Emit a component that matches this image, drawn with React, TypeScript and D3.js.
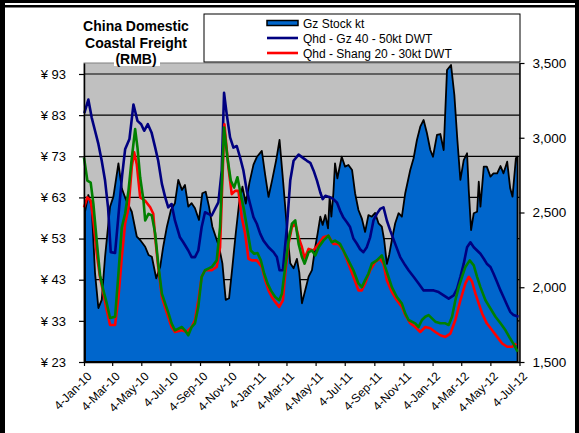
import React, { useRef, useEffect } from 'react'
import * as d3 from 'd3'

// weekly series, first column = weeks after 4-Jan-10
const gzStock: [number, number][] = [
  [0.3, 2505], [1.3, 2617], [2.3, 2539], [3.3, 2095], [4.3, 1861], [5.3, 1915], [6.3, 2204], [7.8, 2539],
  [8.8, 2606], [10.3, 2829], [11.3, 2662], [12.3, 2600], [13.3, 2550], [14.3, 2505], [15.8, 2338], [16.8, 2316],
  [18.3, 2271], [19.3, 2216], [20.3, 2204], [21.6, 2060], [22.8, 2138], [23.7, 2271], [24.8, 2405], [26, 2517],
  [27.2, 2562], [28.2, 2718], [29.3, 2651], [30.2, 2684], [31.2, 2539], [32.2, 2562], [33.2, 2528], [34.4, 2450],
  [35.4, 2629], [36.4, 2639], [37.4, 2539], [38.4, 2405], [39.4, 2338], [40.4, 2271], [41.4, 2160], [42.4, 1915],
  [43.4, 1926], [44.4, 2138], [45.4, 2361], [46.4, 2562], [47.4, 2673], [48.4, 2560], [49.5, 2700], [50.7, 2820],
  [51.7, 2871], [53.2, 2912], [54.2, 2751], [55.2, 2604], [56.3, 2718], [57.5, 2851], [58.5, 2985], [59.6, 2700],
  [60.7, 2400], [61.7, 2160], [62.7, 2127], [63.7, 2190], [64.4, 2100], [65.2, 1893], [66.2, 1982], [67.2, 2071],
  [68.2, 2115], [69.2, 2271], [69.9, 2361], [70.7, 2472], [71.4, 2417], [72.2, 2483], [73, 2394], [73.5, 2606],
  [74, 2472], [74.6, 2629], [75.1, 2829], [75.8, 2729], [77.1, 2873], [78.1, 2807], [79.1, 2818], [80.2, 2784],
  [81.1, 2629], [82.1, 2517], [83.1, 2461], [84.1, 2370], [85.1, 2483], [86.1, 2472], [87.1, 2497], [88.1, 2428],
  [89.1, 2405], [89.8, 2316], [90.6, 2156], [91.3, 2216], [92.1, 2316], [93.1, 2428], [94.1, 2495], [95.1, 2472],
  [96.1, 2629], [97.6, 2784], [98.6, 2863], [99.6, 2985], [100.6, 3074], [101.6, 3119], [102.6, 3030], [103.6, 2918],
  [104.4, 2873], [105.6, 3019], [106.6, 3025], [107.6, 2918], [108.6, 3453], [109.8, 3487], [110.8, 3286], [111.7, 2985],
  [112.6, 2718], [113.6, 2851], [114.6, 2896], [115.1, 2651], [115.8, 2383], [116.6, 2495], [117.6, 2505], [118.1, 2706],
  [118.6, 2539], [119.6, 2807], [120.5, 2807], [121.6, 2740], [122.5, 2762], [123.6, 2762], [124.6, 2811], [125.5, 2762],
  [126.6, 2840], [127.5, 2662], [128.2, 2606], [129.2, 2863], [129.7, 2873],
]

const qhdGz: [number, number][] = [
  [0.1, 83.5], [1.3, 86.8], [2.3, 82.4], [3.3, 79.2], [4.3, 76.0], [5.3, 71.9], [6.3, 67.1], [7.2, 60.5],
  [8.0, 49.7], [9.3, 49.5], [10.3, 58.6], [11.4, 68.3], [12.3, 74.7], [13.6, 77.2], [14.8, 85.6], [16.0, 81.6],
  [17.1, 80.8], [18.0, 79.2], [19.1, 80.8], [20.2, 78.8], [21.3, 75.1], [22.2, 71.9], [23.3, 66.3], [24.3, 63.0],
  [25.2, 60.6], [26.2, 61.4], [27.2, 57.4], [28.7, 53.3], [29.7, 52.1], [31.2, 50.1], [32.2, 48.5], [33.2, 48.5],
  [34.2, 50.1], [35.2, 55.8], [36.2, 59.4], [37.2, 59.0], [38.2, 58.6], [39.2, 60.2], [40.2, 61.8], [41.2, 69.5],
  [41.9, 88.4], [42.7, 83.2], [43.7, 77.6], [44.7, 75.1], [45.7, 75.5], [46.7, 72.7], [47.7, 69.5], [48.7, 64.6],
  [49.7, 61.4], [50.7, 58.2], [51.7, 56.6], [52.7, 54.2], [53.7, 52.5], [55.2, 50.9], [56.7, 49.7], [57.7, 48.5],
  [58.5, 45.3], [59.5, 45.3], [60.7, 55.8], [61.7, 67.1], [62.7, 71.9], [64.2, 73.4], [65.7, 72.5], [66.7, 71.9],
  [67.7, 71.4], [68.7, 69.5], [69.7, 67.1], [70.7, 64.2], [71.4, 62.6], [72.2, 63.4], [73.7, 63.0], [74.6, 62.6],
  [75.7, 61.7], [76.6, 59.8], [77.6, 58.1], [78.7, 56.9], [79.6, 55.8], [80.6, 53.0], [81.6, 51.8], [82.6, 50.4],
  [83.6, 49.7], [84.6, 50.9], [85.6, 53.3], [86.6, 57.4], [87.6, 59.0], [88.6, 60.2], [89.6, 60.6], [90.6, 57.4],
  [91.6, 55.0], [93.1, 51.7], [94.6, 48.5], [96.1, 46.5], [97.1, 45.3], [98.6, 43.7], [100.1, 42.1], [101.6, 40.4],
  [103.1, 40.4], [104.6, 40.4], [106.1, 40.0], [107.6, 39.2], [109.1, 38.4], [110.6, 39.2], [111.6, 40.8], [112.6, 43.7],
  [113.6, 46.9], [114.6, 50.9], [115.6, 52.1], [116.6, 50.9], [117.6, 50.1], [118.6, 49.3], [119.6, 48.1], [120.5, 46.9],
  [121.6, 46.1], [122.5, 44.5], [123.6, 42.4], [124.6, 40.4], [125.5, 38.8], [126.6, 36.8], [127.5, 35.2], [128.5, 34.4],
  [130, 34.0],
]

const qhdShang: [number, number][] = [
  [0, 60.6], [1, 63.0], [2, 62.2], [2.8, 57.4], [3.8, 49.4], [4.8, 43.6], [5.8, 39.7], [6.8, 35.6],
  [7.8, 32.0], [9.3, 32.0], [10.3, 38.7], [11.3, 48.4], [12.3, 56.7], [13.3, 60.3], [14.3, 70.5], [15, 74.0],
  [15.8, 71.0], [16.8, 63.0], [18.3, 62.2], [19.8, 60.6], [20.7, 59.1], [21.3, 53.3], [22.2, 46.1], [23.3, 38.8],
  [24.8, 34.9], [26.2, 31.5], [27.2, 30.3], [29.3, 30.7], [30.7, 30.3], [32.2, 31.5], [33.2, 33.2], [34.2, 38.0],
  [35.2, 43.7], [36.2, 45.3], [38.2, 45.3], [39.7, 46.1], [40.7, 50.9], [42, 80.8], [43.2, 70.3], [44.2, 63.8],
  [45.2, 64.6], [46.2, 64.6], [47.2, 58.2], [48.2, 54.2], [49.2, 48.1], [50.2, 47.7], [51.7, 47.7], [53.2, 46.1],
  [54.2, 42.9], [55.2, 40.4], [56.2, 38.8], [57.2, 37.6], [58.4, 36.4], [59.5, 38.0], [60.2, 44.5], [61.2, 51.8],
  [62.2, 55.8], [63.2, 56.6], [64.2, 53.3], [65.2, 50.9], [66, 48.2], [67.2, 50.5], [68.6, 50.1], [70.2, 51.7],
  [71.6, 53.3], [73.1, 53.7], [74.6, 51.7], [76.1, 51.7], [77.6, 50.1], [79.1, 46.9], [80.6, 43.7], [82.1, 40.4],
  [83.1, 40.4], [84.1, 42.1], [85.6, 45.3], [87.1, 47.3], [88.6, 48.1], [89.6, 46.9], [90.6, 42.9], [92.1, 40.0],
  [93.6, 38.0], [95.1, 36.4], [96.1, 34.4], [97.6, 32.4], [99.1, 31.5], [100.6, 30.3], [102.1, 31.5], [103.6, 31.2],
  [105.1, 30.3], [106.6, 29.5], [108.1, 29.1], [109.6, 29.9], [111.1, 33.2], [112.6, 38.0], [114.1, 42.1], [115.1, 43.7],
  [116.1, 42.5], [117.1, 39.6], [118.1, 37.2], [119.1, 34.8], [120.5, 32.4], [122.1, 30.7], [123.6, 29.1], [125.1, 27.5],
  [126.6, 26.7], [128.1, 26.7], [129.3, 27.5],
]

// green series (no legend entry in the original)
const qhdOther: [number, number][] = [
  [0, 72.7], [1, 67.1], [2, 66.6], [2.8, 61.5], [3.8, 52.5], [4.8, 44.1], [5.8, 40.4], [6.8, 37.3],
  [7.8, 33.7], [9.3, 34.0], [10.3, 44.5], [11.3, 55.7], [12.3, 59.1], [13.3, 64.6], [14.3, 72.6], [15.3, 79.6],
  [16, 75.1], [16.8, 67.9], [17.8, 62.2], [18.3, 57.4], [19.3, 59.0], [20.3, 58.6], [21.3, 54.2], [22.2, 46.9],
  [23.3, 39.6], [24.3, 37.2], [25.3, 34.8], [26.2, 32.4], [27.2, 30.7], [29.3, 31.5], [30.2, 30.7], [31.2, 29.5],
  [32.2, 31.5], [33.2, 32.4], [34.2, 36.4], [35.2, 43.7], [36.2, 45.3], [37.2, 45.7], [38.2, 46.1], [39.7, 47.7],
  [40.7, 55.8], [41.9, 80.0], [42.9, 72.7], [43.9, 67.1], [44.9, 65.4], [45.9, 67.9], [46.9, 63.8], [47.9, 59.8],
  [48.9, 55.0], [49.9, 50.1], [50.9, 49.3], [51.9, 49.5], [52.9, 47.7], [53.9, 44.5], [54.9, 42.1], [55.9, 40.4],
  [57.2, 38.8], [58.4, 38.0], [59.2, 39.6], [60.2, 46.1], [61.2, 52.5], [62.2, 56.6], [63.2, 57.4], [64.2, 51.7],
  [65.2, 48.5], [66, 46.9], [67.2, 49.7], [68.2, 50.1], [69.2, 48.9], [70.2, 50.9], [71.6, 52.5], [73.1, 53.7],
  [74.1, 52.1], [75.1, 52.5], [76.6, 51.7], [77.6, 50.1], [79.1, 47.7], [80.6, 45.3], [82.1, 42.1], [83.1, 41.2],
  [84.1, 42.9], [85.1, 44.5], [86.1, 46.9], [87.6, 47.7], [89.1, 48.9], [90.1, 46.1], [91.1, 43.7], [92.1, 41.2],
  [93.6, 38.8], [95.1, 37.2], [96.1, 34.8], [97.1, 33.2], [98.1, 32.8], [99.1, 32.4], [100.1, 31.5], [101.1, 33.2],
  [102.1, 34.0], [103.1, 34.4], [104.1, 33.6], [105.1, 32.8], [106.6, 32.4], [108.1, 32.4], [109.1, 32.0], [110.1, 34.0],
  [111.1, 38.0], [112.1, 41.2], [113.1, 43.7], [114.1, 46.1], [115.4, 47.7], [116.6, 46.5], [117.6, 43.7], [118.6, 41.2],
  [120.1, 38.0], [121.6, 36.0], [123.1, 34.0], [124.6, 32.4], [126.1, 30.7], [127.5, 28.7], [128.7, 27.1], [129.7, 25.5],
]

const xTickLabels = [
  '4-Jan-10', '4-Mar-10', '4-May-10', '4-Jul-10', '4-Sep-10', '4-Nov-10', '4-Jan-11', '4-Mar-11',
  '4-May-11', '4-Jul-11', '4-Sep-11', '4-Nov-11', '4-Jan-12', '4-Mar-12', '4-May-12', '4-Jul-12',
]
const leftTicks = [23, 33, 43, 53, 63, 73, 83, 93]
const rightTicks = [1500, 2000, 2500, 3000, 3500]
const legendLabels = ['Gz Stock kt', 'Qhd - Gz 40 - 50kt DWT', 'Qhd - Shang 20 - 30kt DWT']
const titleLines = ['China Domestic', 'Coastal Freight', '(RMB)']

const FONT = "'Liberation Sans', Arial, sans-serif"

export default function App() {
  const ref = useRef<SVGSVGElement>(null)

  useEffect(() => {
    const svg = d3.select(ref.current)
    svg.selectAll('*').remove()

    const left = 84
    const right = 519.5
    const top = 63
    const bottom = 362

    const parse = d3.timeParse('%d-%b-%y')
    const tickDates = xTickLabels.map(s => parse(s) as Date)
    const start = tickDates[0]
    const weekDate = (w: number) => new Date(start.getTime() + w * 7 * 864e5)

    const x = d3.scaleTime().domain([start, tickDates[tickDates.length - 1]]).range([left, right])
    const yL = d3.scaleLinear().domain([23, 95.67]).range([bottom, top])
    const yR = d3.scaleLinear().domain([1500, 3500]).range([bottom, top])

    // outer frame
    svg.append('rect').attr('x', 0).attr('y', 0).attr('width', 579).attr('height', 433).attr('fill', '#fff')
    svg.append('rect').attr('x', 0).attr('y', 0).attr('width', 579).attr('height', 3).attr('fill', '#000')
    svg.append('rect').attr('x', 0).attr('y', 5).attr('width', 579).attr('height', 2.5).attr('fill', '#000')
    svg.append('rect').attr('x', 0).attr('y', 0).attr('width', 5).attr('height', 433).attr('fill', '#000')
    svg.append('rect').attr('x', 575).attr('y', 0).attr('width', 4).attr('height', 433).attr('fill', '#000')

    svg
      .append('rect')
      .attr('x', left)
      .attr('y', top)
      .attr('width', right - left)
      .attr('height', bottom - top)
      .attr('fill', '#c0c0c0')
      .attr('stroke', '#808080')

    svg
      .append('g')
      .selectAll('line')
      .data(leftTicks.slice(1))
      .enter()
      .append('line')
      .attr('x1', left)
      .attr('x2', right)
      .attr('y1', d => yL(d))
      .attr('y2', d => yL(d))
      .attr('stroke', '#000')
      .attr('stroke-width', 1.2)

    const area = d3
      .area<[number, number]>()
      .x(d => x(weekDate(d[0])))
      .y0(yR(1500))
      .y1(d => yR(d[1]))
    svg
      .append('path')
      .datum(gzStock)
      .attr('d', area)
      .attr('fill', '#0066cc')
      .attr('stroke', '#000')
      .attr('stroke-width', 1.8)
      .attr('stroke-linejoin', 'round')

    const line = d3
      .line<[number, number]>()
      .x(d => x(weekDate(d[0])))
      .y(d => yL(d[1]))
    const series: [[number, number][], string][] = [
      [qhdGz, '#000080'],
      [qhdShang, '#ff0000'],
      [qhdOther, '#008000'],
    ]
    series.forEach(([data, color]) => {
      svg
        .append('path')
        .datum(data)
        .attr('d', line)
        .attr('fill', 'none')
        .attr('stroke', color)
        .attr('stroke-width', 2.6)
        .attr('stroke-linejoin', 'round')
    })

    // axes
    const styleAxis = (g: any, size: number) => {
      g.select('.domain').attr('stroke', '#000').attr('stroke-width', 1.5)
      g.selectAll('.tick line').attr('stroke', '#000').attr('stroke-width', 1.2)
      g.selectAll('text').attr('font-family', FONT).attr('font-size', size).attr('fill', '#000')
    }

    const gL = svg
      .append('g')
      .attr('transform', `translate(${left},0)`)
      .call(
        d3
          .axisLeft(yL)
          .tickValues(leftTicks)
          .tickSize(5)
          .tickSizeOuter(0)
          .tickPadding(13)
          .tickFormat(d => '¥ ' + d)
      )
    styleAxis(gL, 13)
    gL.selectAll('text').attr('xml:space', 'preserve').style('white-space', 'pre')

    const gR = svg
      .append('g')
      .attr('transform', `translate(${right},0)`)
      .call(
        d3
          .axisRight(yR)
          .tickValues(rightTicks)
          .tickSize(5)
          .tickSizeOuter(0)
          .tickPadding(8)
          .tickFormat(d3.format(','))
      )
    styleAxis(gR, 13.5)

    const gX = svg
      .append('g')
      .attr('transform', `translate(0,${bottom})`)
      .call(
        d3
          .axisBottom(x)
          .tickValues(tickDates)
          .tickSize(4)
          .tickSizeOuter(0)
          .tickFormat((d, i) => xTickLabels[i])
      )
    styleAxis(gX, 12)
    gX.selectAll('.tick text')
      .attr('text-anchor', 'end')
      .attr('transform', 'translate(5,12) rotate(-45)')
      .attr('dy', '0.35em')
      .attr('y', 0)
      .attr('x', 0)

    // title
    svg
      .append('rect')
      .attr('x', 114)
      .attr('y', 53)
      .attr('width', 46)
      .attr('height', 13)
      .attr('fill', '#fff')
    svg
      .append('g')
      .selectAll('text')
      .data(titleLines)
      .enter()
      .append('text')
      .attr('x', 136)
      .attr('y', (d, i) => 31 + i * 16.5)
      .attr('text-anchor', 'middle')
      .attr('font-family', FONT)
      .attr('font-weight', 'bold')
      .attr('font-size', 14)
      .text(d => d)

    // legend
    const lg = svg.append('g')
    lg.append('rect')
      .attr('x', 204)
      .attr('y', 14)
      .attr('width', 316)
      .attr('height', 48)
      .attr('fill', '#fff')
      .attr('stroke', '#000')
    legendLabels.forEach((label, i) => {
      const cy = 23 + i * 15
      if (i === 0) {
        lg.append('rect')
          .attr('x', 267)
          .attr('y', cy - 2.5)
          .attr('width', 31)
          .attr('height', 5)
          .attr('fill', '#0066cc')
          .attr('stroke', '#000')
          .attr('stroke-width', 1.5)
      } else {
        lg.append('line')
          .attr('x1', 267)
          .attr('x2', 298)
          .attr('y1', cy)
          .attr('y2', cy)
          .attr('stroke', series[i - 1][1])
          .attr('stroke-width', 2.6)
      }
      lg.append('text')
        .attr('x', 303)
        .attr('y', cy + 4.5)
        .attr('font-family', FONT)
        .attr('font-size', 12)
        .text(label)
    })
  }, [])

  return (
    <svg
      ref={ref}
      width={579}
      height={433}
      style={{ position: 'absolute', left: 0, top: 0 }}
    ></svg>
  )
}
